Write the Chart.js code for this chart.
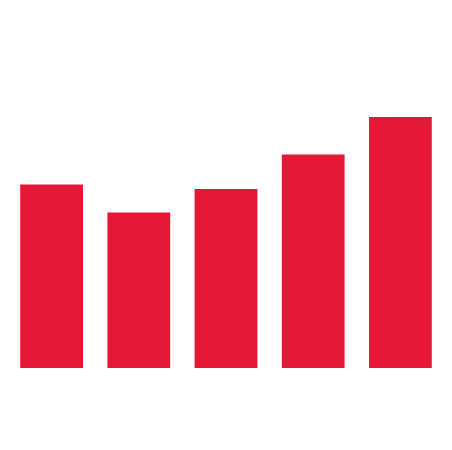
<!DOCTYPE html>
<html>
<head>
<meta charset="utf-8">
<script src="https://cdn.jsdelivr.net/npm/chart.js@4"></script>
<style>
  html, body { margin: 0; padding: 0; background: #ffffff; }
  #wrap { width: 452px; height: 450px; position: relative; }
</style>
</head>
<body>
<div id="wrap"><canvas id="barChart"></canvas></div>
<script>
// data
const categories = ["1", "2", "3", "4", "5"];
const values = [36.7, 31.1, 35.8, 42.7, 50.2];
const yMin = 0;
const yMax = 60;

const ctx = document.getElementById("barChart").getContext("2d");

new Chart(ctx, {
  type: "bar",
  data: {
    labels: categories,
    datasets: [
      {
        data: values,
        backgroundColor: "#e31937",
        borderWidth: 0,
        categoryPercentage: 1,
        barPercentage: 0.72
      }
    ]
  },
  options: {
    responsive: true,
    maintainAspectRatio: false,
    animation: false,
    layout: { padding: { left: 8, right: 8, top: 68, bottom: 82 } },
    plugins: {
      legend: { display: false },
      tooltip: { enabled: false }
    },
    scales: {
      x: { display: false },
      y: { display: false, min: yMin, max: yMax }
    }
  }
});
</script>
</body>
</html>
